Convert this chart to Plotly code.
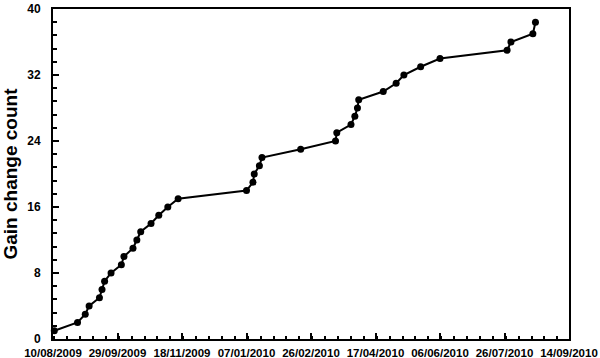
import plotly.graph_objects as go

dates = [
    "2009-08-11", "2009-08-29", "2009-09-04", "2009-09-07", "2009-09-15",
    "2009-09-17", "2009-09-19", "2009-09-24", "2009-10-02", "2009-10-04",
    "2009-10-11", "2009-10-14", "2009-10-17", "2009-10-25", "2009-10-31",
    "2009-11-07", "2009-11-15", "2010-01-07", "2010-01-12", "2010-01-13",
    "2010-01-17", "2010-01-19", "2010-02-18", "2010-03-17", "2010-03-18",
    "2010-03-29", "2010-04-01", "2010-04-03", "2010-04-04", "2010-04-23",
    "2010-05-03", "2010-05-09", "2010-05-22", "2010-06-06", "2010-07-28",
    "2010-07-31", "2010-08-17", "2010-08-19",
]
counts = [
    1, 2, 3, 4, 5, 6, 7, 8, 9, 10,
    11, 12, 13, 14, 15, 16, 17, 18, 19, 20,
    21, 22, 23, 24, 25, 26, 27, 28, 29, 30,
    31, 32, 33, 34, 35, 36, 37, 38.4,
]

x_range = ["2009-08-10", "2010-09-14"]
y_range = [0, 40]
y_title = "Gain change count"

DAY_MS = 86400000

fig = go.Figure()
fig.add_trace(go.Scatter(
    x=dates, y=counts, mode="lines+markers",
    line=dict(color="black", width=2),
    marker=dict(color="black", size=7),
    cliponaxis=False,
))

font = dict(family="Liberation Sans, Arial, sans-serif", color="black")

fig.update_layout(
    width=600, height=358,
    margin=dict(l=53, r=31, t=9, b=19),
    paper_bgcolor="white", plot_bgcolor="white",
    showlegend=False,
    font=font,
)
fig.update_xaxes(
    type="date", range=x_range, automargin=False,
    tick0=x_range[0], dtick=50 * DAY_MS, tickformat="%d/%m/%Y",
    ticks="inside", ticklen=6, tickwidth=1.5, tickcolor="black",
    minor=dict(ticks="inside", dtick=10 * DAY_MS, ticklen=3, tickwidth=1.5, tickcolor="black", showgrid=False),
    showline=True, linecolor="black", linewidth=2, mirror=True,
    showgrid=False, zeroline=False,
    tickfont=dict(size=11.5, weight="bold", family=font["family"], color="black"),
    ticklabelstandoff=2,
)
fig.update_yaxes(
    range=y_range, tick0=0, dtick=8, automargin=False,
    ticks="inside", ticklen=6, tickwidth=1.5, tickcolor="black",
    minor=dict(ticks="inside", dtick=1.6, ticklen=4, tickwidth=1.5, tickcolor="black", showgrid=False),
    showline=True, linecolor="black", linewidth=2, mirror=True,
    showgrid=False, zeroline=False,
    tickfont=dict(size=12, weight="bold", family=font["family"], color="black"),
    ticklabelstandoff=8,
    title=dict(text=y_title, font=dict(size=19, weight="bold", family=font["family"], color="black"), standoff=6),
)

fig.write_html("out.html")
